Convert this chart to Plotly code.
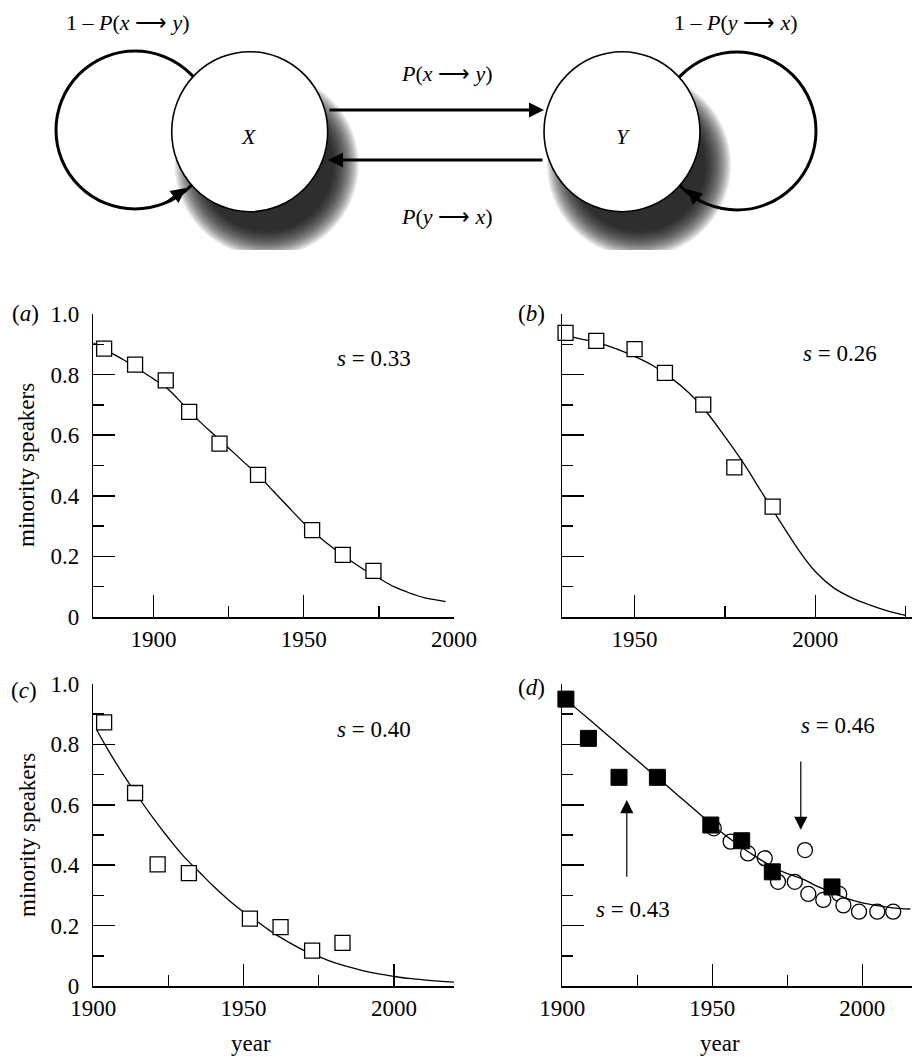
import plotly.graph_objects as go

W, H = 912, 1057
FONT = "Liberation Serif"
FS = 23

# ---------------- data ----------------
# panel (a)
a_years = [1883.6, 1893.9, 1904.1, 1911.9, 1922.0, 1934.8, 1952.8, 1963.0, 1973.2]
a_vals = [0.886, 0.833, 0.781, 0.677, 0.572, 0.469, 0.287, 0.205, 0.152]
a_fit_years = [1880, 1885, 1890, 1895, 1900, 1905, 1910, 1915, 1920, 1925, 1930, 1935, 1940,
               1945, 1950, 1955, 1960, 1965, 1970, 1975, 1980, 1985, 1990, 1995, 1997.2]
a_fit_vals = [0.905, 0.877, 0.849, 0.818, 0.786, 0.751, 0.70, 0.649, 0.603, 0.558, 0.512, 0.467,
              0.414, 0.362, 0.31, 0.266, 0.226, 0.19, 0.157, 0.128, 0.10, 0.08, 0.064, 0.055, 0.051]

# panel (b)
b_years = [1930.9, 1939.4, 1950.0, 1958.4, 1969.0, 1977.6, 1988.2]
b_vals = [0.938, 0.911, 0.884, 0.806, 0.701, 0.494, 0.364]
b_fit_years = [1930, 1935, 1940, 1945, 1950, 1955, 1960, 1965, 1970, 1975, 1980, 1985, 1990,
               1995, 2000, 2005, 2010, 2015, 2020, 2025]
b_fit_vals = [0.93, 0.918, 0.905, 0.885, 0.86, 0.83, 0.79, 0.74, 0.675, 0.595, 0.51, 0.415,
              0.32, 0.228, 0.15, 0.097, 0.064, 0.04, 0.02, 0.005]

# panel (c)
c_years = [1903.6, 1913.9, 1921.4, 1931.8, 1952.1, 1962.3, 1972.8, 1982.9]
c_vals = [0.873, 0.639, 0.403, 0.374, 0.223, 0.195, 0.117, 0.143]
c_fit_years = [1901, 1905, 1910, 1915, 1920, 1925, 1930, 1935, 1940, 1945, 1950, 1955, 1960,
               1965, 1970, 1975, 1980, 1985, 1990, 1995, 2000, 2005, 2010, 2015, 2020]
c_fit_vals = [0.85, 0.78, 0.70, 0.625, 0.555, 0.49, 0.43, 0.38, 0.33, 0.285, 0.245, 0.21, 0.175,
              0.145, 0.118, 0.097, 0.078, 0.063, 0.05, 0.04, 0.032, 0.025, 0.02, 0.016, 0.013]

# panel (d)
d_sq_years = [1901.2, 1908.7, 1918.9, 1931.7, 1949.5, 1959.8, 1970.0, 1989.9]
d_sq_vals = [0.950, 0.820, 0.691, 0.691, 0.533, 0.481, 0.378, 0.328]
d_ci_years = [1950.5, 1956.1, 1961.9, 1967.5, 1971.9, 1977.5, 1980.9, 1982.0, 1987.0, 1992.3,
              1993.7, 1998.9, 2005.0, 2010.3]
d_ci_vals = [0.522, 0.478, 0.439, 0.423, 0.345, 0.345, 0.450, 0.305, 0.285, 0.305,
             0.267, 0.246, 0.246, 0.246]
d_fit_years = [1901, 1905, 1910, 1915, 1920, 1925, 1930, 1935, 1940, 1945, 1950, 1955, 1960,
               1965, 1970, 1975, 1980, 1985, 1990, 1995, 2000, 2005, 2010, 2016]
d_fit_vals = [0.95, 0.916, 0.874, 0.831, 0.789, 0.747, 0.704, 0.662, 0.619, 0.576, 0.533, 0.494,
              0.458, 0.425, 0.395, 0.372, 0.355, 0.33, 0.31, 0.289, 0.275, 0.266, 0.259, 0.255]

y_tick_vals = [0, 0.2, 0.4, 0.6, 0.8, 1.0]
y_tick_text = ["0", "0.2", "0.4", "0.6", "0.8", "1.0"]
x_tick_vals = [1900, 1950, 2000]
x_tick_text = ["1900", "1950", "2000"]

s_labels = ["<i>s</i> = 0.33", "<i>s</i> = 0.26", "<i>s</i> = 0.40", "<i>s</i> = 0.46", "<i>s</i> = 0.43"]


def px(x):
    return x / W


def py(y):
    return 1 - y / H


fig = go.Figure()

LINE = dict(color="black", width=1.3)
SQ = dict(symbol="square", size=15, color="white", line=dict(color="black", width=1.3))


def fit(xs, ys, xa, ya):
    fig.add_trace(go.Scatter(x=xs, y=ys, mode="lines", line=dict(shape="spline", smoothing=1, **LINE),
                             xaxis=xa, yaxis=ya, hoverinfo="skip", showlegend=False))


def pts(xs, ys, xa, ya, marker):
    fig.add_trace(go.Scatter(x=xs, y=ys, mode="markers", marker=marker, cliponaxis=False,
                             xaxis=xa, yaxis=ya, showlegend=False))


fit(a_fit_years, a_fit_vals, "x", "y")
pts(a_years, a_vals, "x", "y", SQ)
fit(b_fit_years, b_fit_vals, "x2", "y2")
pts(b_years, b_vals, "x2", "y2", SQ)
fit(c_fit_years, c_fit_vals, "x3", "y3")
pts(c_years, c_vals, "x3", "y3", SQ)
pts(d_ci_years, d_ci_vals, "x4", "y4",
    dict(symbol="circle", size=15, color="white", line=dict(color="black", width=1.3)))
fit(d_fit_years, d_fit_vals, "x4", "y4")
pts(d_sq_years, d_sq_vals, "x4", "y4",
    dict(symbol="square", size=16, color="black", line=dict(color="black", width=1)))

# dummy trace for diagram axes
fig.add_trace(go.Scatter(x=[0], y=[0], mode="markers", marker=dict(opacity=0), xaxis="x5", yaxis="y5",
                         hoverinfo="skip", showlegend=False))

TICKFONT = dict(family=FONT, size=FS, color="black")


def xcfg(domain, rng, anchor, labels=True):
    return dict(domain=domain, range=rng, anchor=anchor, showline=True, linecolor="black", linewidth=1.5,
                ticks="inside", ticklen=22, tickwidth=1.5, tickcolor="black",
                tickmode="array", tickvals=x_tick_vals, ticktext=x_tick_text, tickfont=TICKFONT,
                showticklabels=labels, ticklabelstandoff=1, automargin=False,
                minor=dict(ticks="inside", ticklen=11, tickwidth=1.5, tickcolor="black", tick0=1900, dtick=25),
                showgrid=False, zeroline=False, fixedrange=True)


def ycfg(domain, anchor, labels=True):
    return dict(domain=domain, range=[0, 1.0], anchor=anchor, showline=True, linecolor="black", linewidth=1.5,
                ticks="inside", ticklen=22, tickwidth=1.5, tickcolor="black",
                tickmode="array", tickvals=y_tick_vals, ticktext=y_tick_text, tickfont=TICKFONT,
                showticklabels=labels, ticklabelstandoff=8, automargin=False,
                minor=dict(ticks="inside", ticklen=11, tickwidth=1.5, tickcolor="black", tick0=0, dtick=0.1),
                showgrid=False, zeroline=False, fixedrange=True)


LX = [px(93.3), px(454)]
RX = [px(562.3), 1.0]
TY = [py(617), py(314)]
BY = [py(986), py(684)]

fig.update_layout(
    template="none",
    width=W, height=H, margin=dict(l=0, r=0, t=0, b=0, pad=0), autosize=False,
    paper_bgcolor="white", plot_bgcolor="rgba(0,0,0,0)",
    font=dict(family=FONT, size=FS, color="black"),
    showlegend=False,
    xaxis=xcfg(LX, [1880, 2000], "y"),
    yaxis=ycfg(TY, "x"),
    xaxis2=xcfg(RX, [1930, 1930 + (912 - 562.3) / 3.614], "y2"),
    yaxis2=ycfg(TY, "x2", labels=False),
    xaxis3=xcfg(LX, [1900, 2020], "y3"),
    yaxis3=ycfg(BY, "x3"),
    xaxis4=xcfg(RX, [1900, 1900 + (912 - 562.3) / 3.0], "y4"),
    yaxis4=ycfg(BY, "x4", labels=False),
    xaxis5=dict(domain=[0, 1], range=[0, 912], anchor="y5", visible=False, fixedrange=True, automargin=False),
    yaxis5=dict(domain=[py(250), 1], range=[250, 0], anchor="x5", visible=False, fixedrange=True,
                automargin=False),
)

# ---------------- diagram (top) ----------------
shapes = []
R = 79
XC = (249.7, 131.7)
YC = (622.0, 131.7)


def shadow(cx, cy):
    n = 18
    for k in range(n):
        r = R + 13 - 1.5 * k
        shapes.append(dict(type="circle", xref="x5", yref="y5", x0=cx - r, x1=cx + r, y0=cy - r, y1=cy + r,
                           fillcolor="black", opacity=0.085, line=dict(width=0)))


shadow(XC[0] + 17, XC[1] + 33)
shadow(YC[0] + 17, YC[1] + 33)
# self loops
for (lx, ly) in [(135, 130), (737, 131)]:
    shapes.append(dict(type="circle", xref="x5", yref="y5", x0=lx - R, x1=lx + R, y0=ly - R, y1=ly + R,
                       line=dict(color="black", width=3), fillcolor="rgba(0,0,0,0)"))
# state circles
for (cx, cy) in [XC, YC]:
    shapes.append(dict(type="circle", xref="x5", yref="y5", x0=cx - 78, x1=cx + 78, y0=cy - 80, y1=cy + 80,
                       line=dict(color="black", width=1.6), fillcolor="white"))
fig.update_layout(shapes=shapes)

anns = []


def arrow(x, y, ax, ay, width=3, head=2, size=1.0, ref="5"):
    anns.append(dict(x=x, y=y, ax=ax, ay=ay, xref="x" + ref, yref="y" + ref, axref="x" + ref, ayref="y" + ref,
                     showarrow=True, arrowhead=head, arrowsize=size, arrowwidth=width, arrowcolor="black",
                     text=""))


arrow(544, 110, 328, 110)
arrow(328, 160, 544, 160)
arrow(186, 188, 166, 203, width=3)
arrow(687, 189, 702, 203, width=3)


def text(x, y, t, xref="paper", yref="paper", size=FS, angle=0, xanchor="center"):
    anns.append(dict(x=x, y=y, xref=xref, yref=yref, text=t, showarrow=False, textangle=angle,
                     xanchor=xanchor, yanchor="middle", font=dict(family=FONT, size=size, color="black")))


DS = 22
ARR = "⟶"
text(128, 22, "1 – <i>P</i>(<i>x</i> " + ARR + " <i>y</i>)", "x5", "y5", DS)
text(736, 22, "1 – <i>P</i>(<i>y</i> " + ARR + " <i>x</i>)", "x5", "y5", DS)
text(447, 73, "<i>P</i>(<i>x</i> " + ARR + " <i>y</i>)", "x5", "y5", DS)
text(447, 216, "<i>P</i>(<i>y</i> " + ARR + " <i>x</i>)", "x5", "y5", DS)
text(249, 136, "<i>X</i>", "x5", "y5", DS)
text(623, 136, "<i>Y</i>", "x5", "y5", DS)

# panel labels
text(px(25), py(313), "(<i>a</i>)")
text(px(531), py(313), "(<i>b</i>)")
text(px(24), py(690), "(<i>c</i>)")
text(px(531), py(687), "(<i>d</i>)")

# s labels
text(1973.3, 0.854, s_labels[0], "x", "y")
text(2006.9, 0.870, s_labels[1], "x2", "y2")
text(1993.3, 0.848, s_labels[2], "x3", "y3")
text(1992.0, 0.862, s_labels[3], "x4", "y4")
text(1923.7, 0.252, s_labels[4], "x4", "y4")

# arrows in (d)
arrow(1979.5, 0.517, 1979.5, 0.748, width=1.2, head=2, size=2.2, ref="4")
arrow(1921.5, 0.616, 1921.5, 0.357, width=1.2, head=2, size=2.2, ref="4")

# axis titles
text(px(27), py(465), "minority speakers", angle=-90)
text(px(27), py(835), "minority speakers", angle=-90)
text(1952.5, py(1043), "year", "x3", "paper")
text(1952.5, py(1043), "year", "x4", "paper")

fig.update_layout(annotations=anns)

fig.write_html("out.html",
               config={"displayModeBar": False, "staticPlot": True},
               post_script="document.body.style.margin='0px';document.body.style.padding='0px';"
                           "document.documentElement.style.overflow='hidden';")
